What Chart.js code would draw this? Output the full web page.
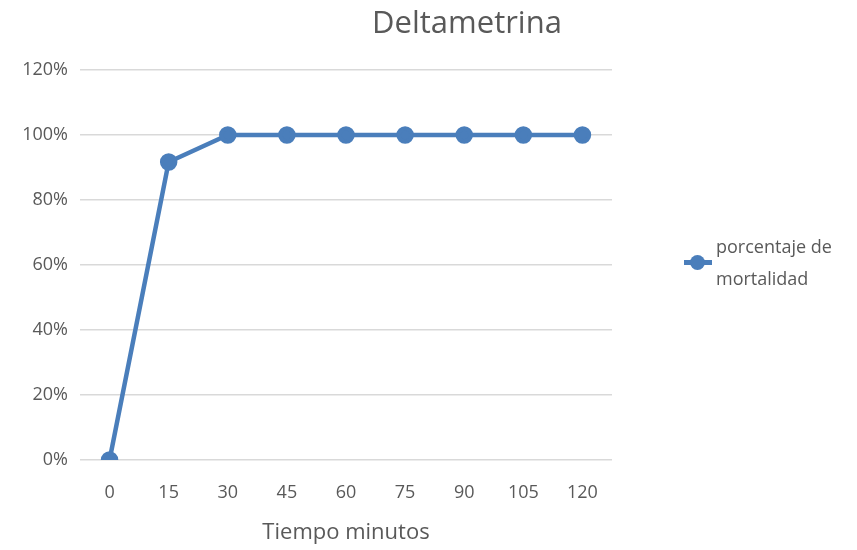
<!DOCTYPE html>
<html>
<head>
<meta charset="utf-8">
<script src="https://cdn.jsdelivr.net/npm/chart.js@4"></script>
<style>
  body { margin: 0; background: #fff; }
  #wrap { position: relative; width: 857px; height: 550px; font-family: "Open Sans", sans-serif; color: #595959; }
  #title { position: absolute; left: 317px; width: 300px; top: 0px; text-align: center; font-size: 31px; }
  #legend { position: absolute; left: 682px; top: 230px; }
  #legend .mark { position: absolute; left: 2px; top: 30px; width: 28px; height: 5px; background: #4a7ebb; }
  #legend .dot { position: absolute; left: 8px; top: 25px; width: 15px; height: 15px; border-radius: 50%; background: #4a7ebb; }
  #legend .txt { position: absolute; left: 34px; top: 0; font-size: 18px; line-height: 32px; white-space: nowrap; }
</style>
</head>
<body>
<div id="wrap">
  <canvas id="chart" width="857" height="550"></canvas>
  <div id="title">Deltametrina</div>
  <div id="legend"><div class="mark"></div><div class="dot"></div><div class="txt" id="legend-text"></div></div>
</div>
<script>
const minutes = ['0', '15', '30', '45', '60', '75', '90', '105', '120'];
const mortality = [0, 0.917, 1, 1, 1, 1, 1, 1, 1];
const seriesName = 'porcentaje de<br>mortalidad';

document.getElementById('legend-text').innerHTML = seriesName;

const font = { family: '"Open Sans", sans-serif', size: 18 };

new Chart(document.getElementById('chart'), {
  type: 'line',
  data: {
    labels: minutes,
    datasets: [{
      label: 'porcentaje de mortalidad',
      data: mortality,
      borderColor: '#4a7ebb',
      backgroundColor: '#4a7ebb',
      borderWidth: 4.5,
      pointRadius: 6.5,
      pointHoverRadius: 6.5,
      tension: 0
    }]
  },
  options: {
    responsive: false,
    animation: false,
    layout: { padding: { left: 0, right: 245, top: 70, bottom: 0 } },
    plugins: { legend: { display: false }, tooltip: { enabled: false } },
    scales: {
      x: {
        offset: true,
        grid: { display: false },
        border: { display: false },
        ticks: { color: '#595959', font, padding: 14 },
        title: { display: true, text: 'Tiempo minutos', color: '#595959', font: { ...font, size: 22 }, padding: { top: 6 } },
        afterFit: s => { s.height = 90; }
      },
      y: {
        min: 0,
        max: 1.2,
        grid: { color: '#d9d9d9', lineWidth: 1.5, drawTicks: false },
        border: { display: false },
        ticks: {
          stepSize: 0.2,
          color: '#595959',
          font,
          padding: 12,
          callback: v => Math.round(v * 100) + '%'
        },
        afterFit: s => { s.width = 80; }
      }
    }
  }
});
</script>
</body>
</html>
